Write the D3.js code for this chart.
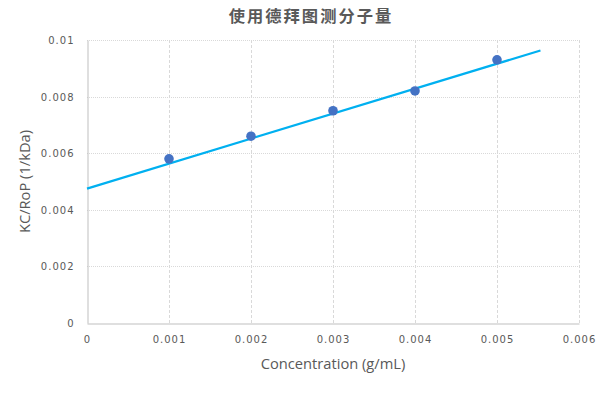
<!DOCTYPE html>
<html>
<head>
<meta charset="utf-8">
<script src="https://cdn.jsdelivr.net/npm/d3@7.9.0/dist/d3.min.js"></script>
<style>
  body { margin: 0; background: #fff; }
  svg text { fill: #595959; }
  .tick text { font-family: "DejaVu Sans", sans-serif; font-size: 10px; letter-spacing: 1px; }
</style>
</head>
<body>
<svg id="chart" width="605" height="398"></svg>
<script>
// data
const concentration = [0.001, 0.002, 0.003, 0.004, 0.005];
const kcRatio = [0.0058, 0.0066, 0.0075, 0.0082, 0.0093];
// trend line ends as drawn
const trendX = [0, 0.00553];
const trendY = [0.00475, 0.00963];
const xTicks = [0, 0.001, 0.002, 0.003, 0.004, 0.005, 0.006];
const yTicks = [0, 0.002, 0.004, 0.006, 0.008, 0.01];

const width = 605;
const height = 398;
const margin = { top: 40, right: 26, bottom: 75, left: 87 };

const svg = d3.select('#chart');

const xScale = d3.scaleLinear()
    .domain([0, 0.006])
    .range([margin.left, width - margin.right]);

const yScale = d3.scaleLinear()
    .domain([0, 0.01])
    .range([height - margin.bottom, margin.top]);

const grid = svg.append('g').attr('class', 'grid');

// vertical dashed gridlines
grid.selectAll('line.v')
    .data(xTicks.slice(1))
    .join('line')
    .attr('class', 'v')
    .attr('x1', d => Math.round(xScale(d)) + 0.5)
    .attr('x2', d => Math.round(xScale(d)) + 0.5)
    .attr('y1', yScale(0.01))
    .attr('y2', yScale(0))
    .attr('stroke', '#d9d9d9')
    .attr('stroke-dasharray', '3,2');

// horizontal dotted gridlines
grid.selectAll('line.h')
    .data(yTicks.slice(1))
    .join('line')
    .attr('class', 'h')
    .attr('x1', xScale(0))
    .attr('x2', xScale(0.006))
    .attr('y1', d => Math.round(yScale(d)) + 0.5)
    .attr('y2', d => Math.round(yScale(d)) + 0.5)
    .attr('stroke', '#d9d9d9')
    .attr('stroke-dasharray', '1,1');

// axes
const xAxis = d3.axisBottom(xScale)
    .tickValues(xTicks)
    .tickFormat(d => d === 0 ? '0' : d3.format('.3f')(d))
    .tickSize(0)
    .tickPadding(12);

const yAxis = d3.axisLeft(yScale)
    .tickValues(yTicks)
    .tickFormat(d => d === 0 ? '0' : (d === 0.01 ? '0.01' : d3.format('.3f')(d)))
    .tickSize(0)
    .tickPadding(13);

const gx = svg.append('g')
    .attr('transform', `translate(0, ${Math.round(yScale(0)) + 0.5})`)
    .call(xAxis);
gx.select('.domain').attr('stroke', '#bfbfbf');

const gy = svg.append('g')
    .attr('transform', `translate(${Math.round(xScale(0)) + 0.5}, 0)`)
    .call(yAxis);
gy.select('.domain').attr('stroke', '#bfbfbf');
gy.selectAll('.tick text').attr('dy', '0.35em');

// trend line
svg.append('line')
    .attr('x1', xScale(trendX[0]))
    .attr('y1', yScale(trendY[0]))
    .attr('x2', xScale(trendX[1]))
    .attr('y2', yScale(trendY[1]))
    .attr('stroke', '#00b0f0')
    .attr('stroke-width', 2.2);

// points
svg.append('g')
    .selectAll('circle')
    .data(concentration)
    .join('circle')
    .attr('cx', d => xScale(d))
    .attr('cy', (d, i) => yScale(kcRatio[i]))
    .attr('r', 4.8)
    .attr('fill', '#4472c4');

// titles
svg.append('text')
    .attr('x', 311)
    .attr('y', 22)
    .attr('text-anchor', 'middle')
    .style('font-family', '"Noto Sans CJK SC", sans-serif')
    .style('font-size', '16.3px')
    .style('font-weight', 'bold')
    .style('letter-spacing', '2px')
    .text('使用德拜图测分子量');

svg.append('text')
    .attr('x', 333)
    .attr('y', 369)
    .attr('text-anchor', 'middle')
    .style('font-family', '"Open Sans", sans-serif')
    .style('font-size', '14.7px')
    .style('font-weight', 500)
    .text('Concentration (g/mL)');

svg.append('text')
    .attr('transform', `translate(30, ${(yScale(0) + yScale(0.01)) / 2}) rotate(-90)`)
    .attr('text-anchor', 'middle')
    .style('font-family', '"Open Sans", sans-serif')
    .style('font-size', '14.7px')
    .style('font-weight', 500)
    .text('KC/RoP (1/kDa)');
</script>
</body>
</html>
